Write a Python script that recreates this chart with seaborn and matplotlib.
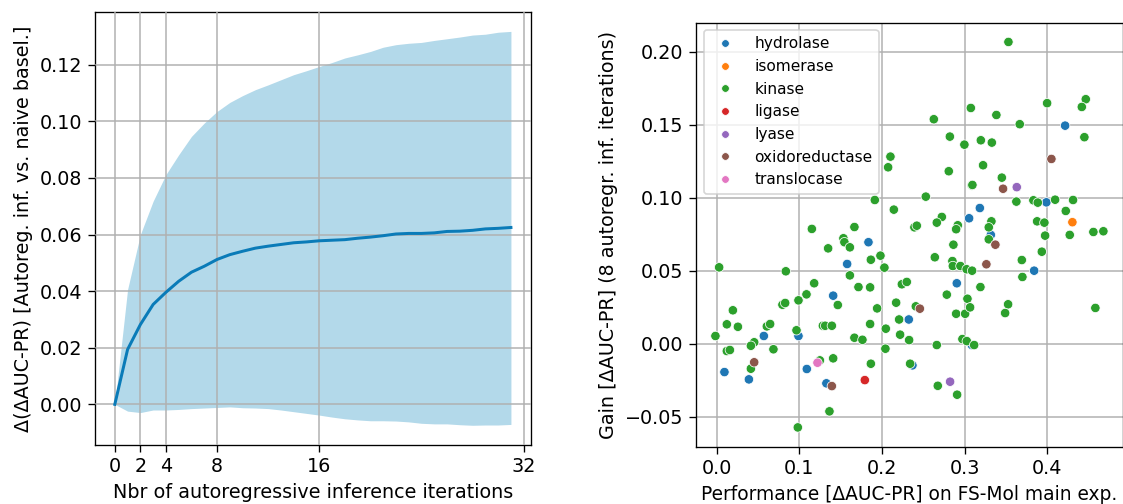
import numpy as np
import pandas as pd
import matplotlib
matplotlib.use("Agg")
import matplotlib.pyplot as plt
import seaborn as sns

# ---------------- Left panel data ----------------
iterations = list(range(0, 32))
mean_gain = [0.0, 0.0194, 0.0282, 0.0353, 0.0396, 0.0435, 0.0467, 0.0488, 0.0512, 0.0529,
             0.0541, 0.0552, 0.0559, 0.0565, 0.0571, 0.0574, 0.0578, 0.0580, 0.0582, 0.0587,
             0.0591, 0.0596, 0.0602, 0.0604, 0.0604, 0.0606, 0.0611, 0.0612, 0.0615, 0.0620,
             0.0622, 0.0625]
upper_gain = [0.0, 0.0406, 0.0600, 0.0718, 0.0812, 0.0882, 0.0947, 0.0994, 0.1035, 0.1067,
              0.1091, 0.1112, 0.1129, 0.1147, 0.1165, 0.1179, 0.1194, 0.1208, 0.1224, 0.1235,
              0.1247, 0.1262, 0.1271, 0.1276, 0.1279, 0.1286, 0.1292, 0.1298, 0.1305, 0.1308,
              0.1315, 0.1318]
lower_gain = [0.0, -0.0024, -0.0029, -0.0020, -0.0020, -0.0018, -0.0015, -0.0013, -0.0011, -0.0009,
              -0.0012, -0.0013, -0.0015, -0.0020, -0.0026, -0.0032, -0.0038, -0.0045, -0.0051, -0.0055,
              -0.0058, -0.0058, -0.0059, -0.0062, -0.0067, -0.0069, -0.0069, -0.0072, -0.0074, -0.0073,
              -0.0073, -0.0071]
left_xticks = [0, 2, 4, 8, 16, 32]

# ---------------- Right panel data ----------------
hydrolase_x = [0.141, 0.0571, 0.099, 0.0094, 0.1091, 0.039, 0.1328, 0.1837, 0.1579, 0.2906,
               0.2325, 0.2369, 0.3055, 0.3185, 0.3318, 0.399, 0.3842, 0.4217, 0.3088]
hydrolase_y = [0.0329, 0.0053, 0.0053, -0.0194, -0.0173, -0.0244, -0.0271, 0.0695, 0.0546, 0.0414,
               0.0166, -0.0148, 0.0859, 0.0929, 0.0745, 0.0968, 0.0500, 0.1493, -0.0009]
isomerase_x = [0.4305]
isomerase_y = [0.0832]
kinase_x = [0.1152, 0.1349, 0.0030, 0.0837, 0.1180, 0.1087, 0.1466, 0.0990, 0.0796, 0.0829,
            0.0196, 0.0123, 0.0257, 0.0607, 0.0647, 0.1285, 0.1313, 0.1394, 0.0966, -0.0015,
            0.0454, 0.0414, 0.0123, 0.0160, 0.0687, 0.1249, 0.1410, 0.0414, 0.1365, 0.0982,
            0.1914, 0.2531, 0.2144, 0.2725, 0.1667, 0.2393, 0.2422, 0.2664, 0.2918, 0.2898,
            0.1534, 0.1546, 0.1612, 0.2865, 0.1982, 0.2640, 0.1866, 0.2853, 0.2858, 0.2030,
            0.2950, 0.3025, 0.3091, 0.1612, 0.2241, 0.2301, 0.1716, 0.1857, 0.2785, 0.2172,
            0.1942, 0.2410, 0.3035, 0.2898, 0.3007, 0.2208, 0.1857, 0.2047, 0.1667, 0.1764,
            0.2220, 0.2329, 0.2664, 0.2974, 0.3027, 0.3116, 0.2042, 0.1866, 0.2341, 0.2676,
            0.2910, 0.3088, 0.3095, 0.3627, 0.3833, 0.3886, 0.4096, 0.4313, 0.4225, 0.3325,
            0.3293, 0.3878, 0.3966, 0.3293, 0.3975, 0.4273, 0.4559, 0.4680, 0.3935, 0.3693,
            0.3700, 0.3192, 0.3067, 0.3527, 0.3491, 0.4583, 0.3531, 0.3999, 0.4467, 0.4419,
            0.3385, 0.3668, 0.3330, 0.4450, 0.3451, 0.3076, 0.2628, 0.2822, 0.2998, 0.3197,
            0.2103, 0.2075, 0.2809, 0.3224]
kinase_y = [0.0786, 0.0653, 0.0523, 0.0496, 0.0414, 0.0338, 0.0265, 0.0297, 0.0267, 0.0279,
            0.0229, 0.0133, 0.0116, 0.0119, 0.0135, 0.0123, 0.0123, 0.0123, 0.0092, 0.0053,
            0.0010, -0.0014, -0.0050, -0.0043, -0.0038, -0.0114, -0.0100, -0.0171, -0.0463, -0.0573,
            0.0984, 0.1007, 0.0918, 0.0868, 0.0799, 0.0797, 0.0808, 0.0829, 0.0811, 0.0784,
            0.0722, 0.0695, 0.0660, 0.0678, 0.0603, 0.0592, 0.0575, 0.0566, 0.0532, 0.0521,
            0.0532, 0.0510, 0.0500, 0.0468, 0.0407, 0.0423, 0.0388, 0.0386, 0.0336, 0.0281,
            0.0242, 0.0256, 0.0308, 0.0205, 0.0205, 0.0166, 0.0135, 0.0103, 0.0041, 0.0027,
            0.0062, 0.0025, -0.0009, 0.0032, 0.0018, -0.0009, -0.0034, -0.0137, -0.0137, -0.0288,
            -0.0349, 0.1084, 0.1087, 0.0973, 0.0982, 0.0966, 0.0986, 0.0984, 0.0909, 0.0838,
            0.0797, 0.0838, 0.0829, 0.0715, 0.0740, 0.0745, 0.0765, 0.0770, 0.0630, 0.0573,
            0.0457, 0.0388, 0.0249, 0.0270, 0.0210, 0.0245, 0.2066, 0.1647, 0.1674, 0.1621,
            0.1566, 0.1503, 0.1377, 0.1414, 0.1137, 0.1614, 0.1537, 0.1418, 0.1363, 0.1393,
            0.1281, 0.1208, 0.1181, 0.1222]
ligase_x = [0.1793]
ligase_y = [-0.0249]
lyase_x = [0.3632, 0.2825]
lyase_y = [0.1072, -0.0260]
oxidoreductase_x = [0.0454, 0.1394, 0.2459, 0.3466, 0.3373, 0.3264, 0.4051]
oxidoreductase_y = [-0.0127, -0.0290, 0.0240, 0.1061, 0.0678, 0.0544, 0.1265]
translocase_x = [0.1220]
translocase_y = [-0.0130]

classes = ["hydrolase", "isomerase", "kinase", "ligase", "lyase", "oxidoreductase", "translocase"]
xs = [hydrolase_x, isomerase_x, kinase_x, ligase_x, lyase_x, oxidoreductase_x, translocase_x]
ys = [hydrolase_y, isomerase_y, kinase_y, ligase_y, lyase_y, oxidoreductase_y, translocase_y]

rows = []
for c, xv, yv in zip(classes, xs, ys):
    for a, b in zip(xv, yv):
        rows.append((c, a, b))
df = pd.DataFrame(rows, columns=["ec", "perf", "gain"])

df_left = pd.DataFrame({"it": iterations, "mean": mean_gain})

# ---------------- Figure ----------------
plt.rcParams["font.family"] = ["DejaVu Sans"]
plt.rcParams["font.size"] = 11.5
plt.rcParams["xtick.major.size"] = 4.0
plt.rcParams["ytick.major.size"] = 4.0
fig = plt.figure(figsize=(1123 / 120, 504 / 120), dpi=120)
ax1 = fig.add_axes([0.0846, 0.1171, 0.388, 0.8597])
ax2 = fig.add_axes([0.6198, 0.1137, 0.380, 0.8413])

ax1.fill_between(iterations, lower_gain, upper_gain, color="#b3d9ea", linewidth=0, zorder=1)
sns.lineplot(data=df_left, x="it", y="mean", ax=ax1, color="#0a7bb8", linewidth=1.8, zorder=3)
ax1.set_xticks(left_xticks)
ax1.set_xlim(-1.55, 32.55)
ax1.grid(True, color="#b0b0b0", linewidth=0.9)
ax1.set_axisbelow(False)
for gl in ax1.get_xgridlines() + ax1.get_ygridlines():
    gl.set_zorder(2)
ax1.set_xlabel("Nbr of autoregressive inference iterations")
ax1.set_ylabel("Δ(ΔAUC-PR) [Autoreg. inf. vs. naive basel.]")

sns.scatterplot(data=df, x="perf", y="gain", hue="ec", hue_order=classes,
                palette="tab10", s=32, ax=ax2, zorder=3)
ax2.grid(True, color="#b0b0b0", linewidth=0.9)
ax2.set_axisbelow(True)
ax2.set_xlabel("Performance [ΔAUC-PR] on FS-Mol main exp.", fontsize=11.2)
ax2.set_ylabel("Gain [ΔAUC-PR] (8 autoregr. inf. iterations)")
leg = ax2.legend(loc="upper left", title=None, fontsize=9.2, handletextpad=0.9)
for h in leg.legend_handles:
    h.set_markersize(4.6)

fig.savefig("out.png", dpi=120)
